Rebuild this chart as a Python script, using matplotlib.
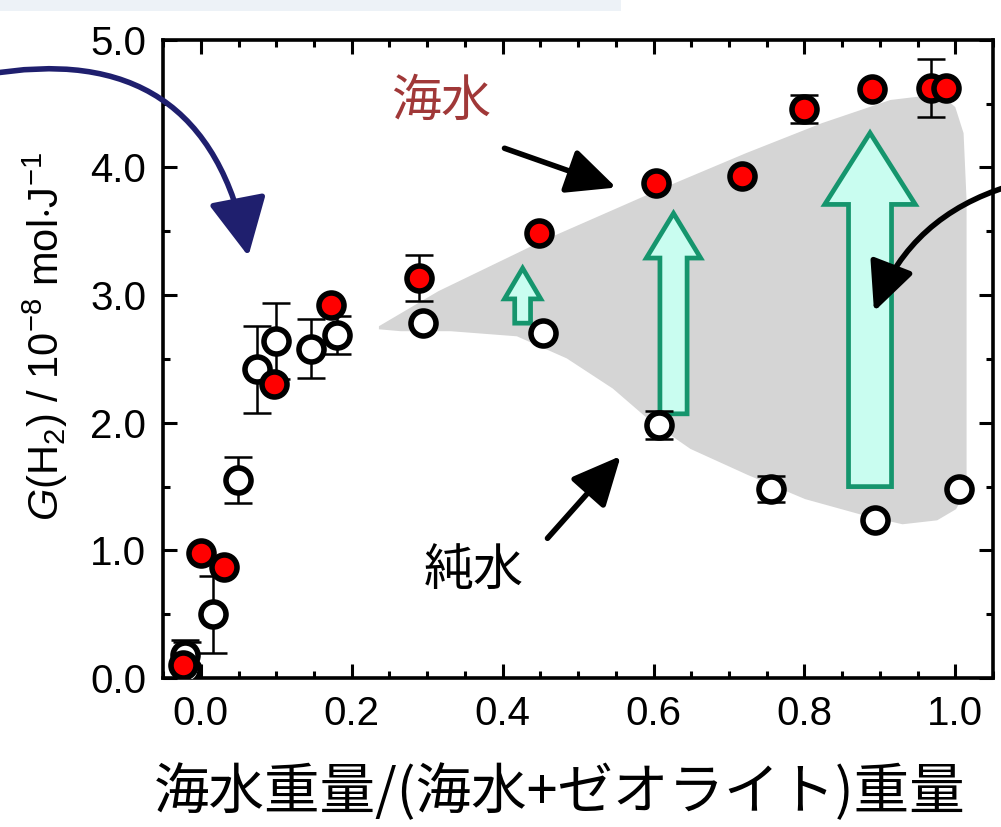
import numpy as np
import matplotlib
matplotlib.use("Agg")
import matplotlib.pyplot as plt
from matplotlib.patches import Polygon, FancyArrow, FancyArrowPatch, Rectangle

plt.rcParams['font.family'] = ['Liberation Sans', 'DejaVu Sans']
plt.rcParams['mathtext.fontset'] = 'custom'
plt.rcParams['mathtext.rm'] = 'Liberation Sans'
plt.rcParams['mathtext.it'] = 'Liberation Sans:italic'

# 海水 (seawater) + zeolite
x_sea = [-0.024, 0.0, 0.030, 0.097, 0.173, 0.289, 0.448, 0.603, 0.717, 0.800, 0.889, 0.968, 0.988]
y_sea = [0.10, 0.98, 0.87, 2.30, 2.92, 3.13, 3.49, 3.88, 3.93, 4.46, 4.61, 4.62, 4.62]
e_sea = [0, 0, 0, 0, 0, 0.18, 0, 0, 0, 0.11, 0, 0.225, 0]

# 純水 (pure water) + zeolite
x_pure = [-0.021, -0.018, 0.016, 0.049, 0.075, 0.100, 0.146, 0.181, 0.295, 0.454, 0.607, 0.756, 0.894, 1.005]
y_pure = [0.18, 0.06, 0.50, 1.55, 2.42, 2.64, 2.58, 2.69, 2.78, 2.70, 1.98, 1.48, 1.24, 1.48]
e_pure = [0.12, 0.22, 0.30, 0.18, 0.34, 0.30, 0.23, 0.15, 0, 0, 0.11, 0.10, 0, 0]

# enhancement arrows: x, bottom, top
up_x = [0.4265, 0.6265, 0.887]
up_lo = [2.78, 2.07, 1.50]
up_hi = [3.21, 3.64, 4.27]
up_w = [0.021, 0.036, 0.057]
up_hw = [0.048, 0.072, 0.120]
up_hl = [0.24, 0.35, 0.56]

# outline of the shaded band
band_x = [0.236, 0.315, 0.453, 0.605, 0.722, 0.823, 0.914, 0.960, 0.985, 1.000, 1.011,
          1.015, 1.015, 1.010, 1.001, 0.976, 0.930, 0.878, 0.801, 0.725, 0.649, 0.597,
          0.546, 0.485, 0.419, 0.331, 0.265, 0.236]
band_y = [2.756, 3.031, 3.425, 3.819, 4.110, 4.346, 4.528, 4.56, 4.551, 4.472, 4.268,
          3.740, 1.535, 1.42, 1.323, 1.236, 1.205, 1.276, 1.402, 1.591, 1.795, 2.008,
          2.268, 2.504, 2.677, 2.717, 2.717, 2.732]


def points(ax, xs, ys, es, face, z):
    xs, ys, es = map(np.asarray, (xs, ys, es))
    m = es > 0
    ax.errorbar(xs[m], ys[m], yerr=es[m], fmt='none', ecolor='black',
                elinewidth=1.8, capsize=10, capthick=1.8, zorder=z)
    ax.plot(xs, ys, 'o', ms=18, mfc=face, mec='black', mew=4, zorder=z)


fig = plt.figure(figsize=(10.01, 8.27), dpi=100)
ax = fig.add_axes([0.163, 0.180, 0.829, 0.772])

fig.add_artist(Rectangle((0, 1 - 11 / 827), 0.62, 11 / 827, transform=fig.transFigure,
                         color='#edf2f7', lw=0))

ax.add_patch(Polygon(np.column_stack([band_x, band_y]), closed=True,
                     fc='#d5d5d5', ec='none', zorder=1))

for x, lo, hi, w, hw, hl in zip(up_x, up_lo, up_hi, up_w, up_hw, up_hl):
    ax.add_patch(FancyArrow(x, lo, 0, hi - lo, width=w, head_width=hw, head_length=hl,
                            length_includes_head=True, fc='#c9fdf0', ec='#15956d',
                            lw=3.4, zorder=2))

points(ax, x_pure, y_pure, e_pure, 'white', 3)
points(ax, x_sea, y_sea, e_sea, '#ff0000', 4)

ax.set_xlim(-0.05, 1.05)
ax.set_ylim(0, 5.0)
ax.set_xticks([0.0, 0.2, 0.4, 0.6, 0.8, 1.0])
ax.set_xticks(np.arange(-0.05, 1.051, 0.05), minor=True)
ax.set_yticks([0, 1, 2, 3, 4, 5])
ax.set_yticks(np.arange(0, 5.01, 0.5), minor=True)
ax.set_xticklabels(['0.0', '0.2', '0.4', '0.6', '0.8', '1.0'])
ax.set_yticklabels(['0.0', '1.0', '2.0', '3.0', '4.0', '5.0'])
ax.tick_params(which='both', direction='in', top=True, right=True, width=2.2,
               labelsize=29, pad=12)
ax.tick_params(which='major', length=10)
ax.tick_params(which='minor', length=5)
for s in ax.spines.values():
    s.set_linewidth(2.6)

ax.set_ylabel(r'$\mathit{G}$(H$_2$) / 10$^{-8}$ mol$\cdot$J$^{-1}$', fontsize=30)
ax.yaxis.set_label_coords(-0.112, 0.535)
ax.set_xlabel('海水重量/(海水+ゼオライト)重量', fontsize=40,
              family=['Noto Sans CJK JP', 'DejaVu Sans'])
ax.xaxis.set_label_coords(0.478, -0.135)

ax.text(0.318, 4.51, '海水', fontsize=36, color='#a03838', ha='center', va='center',
        family=['Noto Sans CJK JP'])
ax.text(0.362, 0.84, '純水', fontsize=36, color='black', ha='center', va='center',
        family=['Noto Sans CJK JP'])

straight = dict(arrowstyle='-|>,head_length=1.5,head_width=0.7', mutation_scale=20,
                color='black', lw=4, zorder=5)
ax.add_patch(FancyArrowPatch((0.399, 4.157), (0.554, 3.835), **straight))
ax.add_patch(FancyArrowPatch((0.457, 1.079), (0.559, 1.756), **straight))

ax.add_patch(FancyArrowPatch((1.075, 3.86), (0.891, 2.85), connectionstyle='arc3,rad=0.25',
                             clip_on=False, **straight))
ax.add_patch(FancyArrowPatch((-0.291, 4.72), (0.0636, 3.283), connectionstyle='arc3,rad=-0.5',
                             arrowstyle='-|>,head_length=1.8,head_width=0.9', mutation_scale=20,
                             color='#1f1f6e', lw=4, clip_on=False, zorder=5))

fig.savefig('out.png', dpi=100)
